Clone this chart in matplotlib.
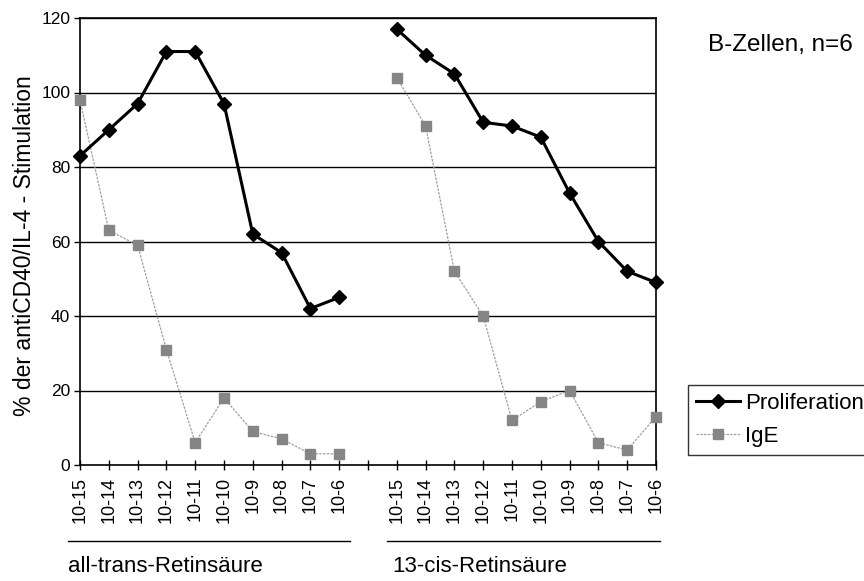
import numpy as np
import matplotlib
matplotlib.use("Agg")
import matplotlib.pyplot as plt
from matplotlib.lines import Line2D

plt.rcParams['font.family'] = ['Liberation Sans', 'DejaVu Sans']

conc_labels = ["10-15", "10-14", "10-13", "10-12", "10-11", "10-10", "10-9", "10-8", "10-7", "10-6"]
prolif_trans = [83, 90, 97, 111, 111, 97, 62, 57, 42, 45]
prolif_cis = [117, 110, 105, 92, 91, 88, 73, 60, 52, 49]
ige_trans = [98, 63, 59, 31, 6, 18, 9, 7, 3, 3]
ige_cis = [104, 91, 52, 40, 12, 17, 20, 6, 4, 13]
group_names = ["all-trans-Retinsäure", "13-cis-Retinsäure"]

# category sequence: 10 trans, one blank, 10 cis
labels = conc_labels + [""] + conc_labels
prolif = prolif_trans + [np.nan] + prolif_cis
ige = ige_trans + [np.nan] + ige_cis
x = np.arange(len(labels))

fig = plt.figure(figsize=(8.64, 5.81), dpi=100)
ax = fig.add_axes([80/864, 1-465/581, (656-80)/864, (465-18)/581])

for yv in range(20, 121, 20):
    ax.axhline(yv, color='black', lw=1.0, zorder=1)

ax.plot(x, ige, color='#a0a0a0', lw=0.9, ls=(0, (2, 1)), marker='s', ms=6.5,
        mfc='#858585', mec='#858585', zorder=3, clip_on=False, label='IgE')
ax.plot(x, prolif, color='black', lw=2.2, marker='D', ms=7.5,
        mfc='black', mec='black', zorder=4, clip_on=False, label='Proliferation')

ax.set_xlim(0, 20)
ax.set_ylim(0, 120)
ax.set_yticks(range(0, 121, 20))
ax.set_xticks(x)
ax.set_xticklabels(labels, rotation=90, fontsize=13)
ax.tick_params(axis='x', direction='inout', length=7, width=1, pad=5)
ax.tick_params(axis='y', direction='out', length=4, width=1, labelsize=12.5, pad=3)
for s in ax.spines.values():
    s.set_linewidth(1.2)
    s.set_color('black')

ax.set_ylabel("% der antiCD40/IL-4 - Stimulation", fontsize=16.5)
ax.yaxis.set_label_coords((36-80)/576, 0.49)

# group brackets
fig.add_artist(Line2D([68/864, 350/864], [1-541/581, 1-541/581], color='black', lw=1.0))
fig.add_artist(Line2D([387/864, 660/864], [1-541/581, 1-541/581], color='black', lw=1.0))
fig.text(68/864, 1-566/581, group_names[0], fontsize=16, va='center', ha='left')
fig.text(392/864, 1-566/581, group_names[1], fontsize=16, va='center', ha='left')

fig.text(708/864, 1-45/581, "B-Zellen, n=6", fontsize=17.5, va='center', ha='left')

h, l = ax.get_legend_handles_labels()
leg = fig.legend(h[::-1], l[::-1], loc='upper left', bbox_to_anchor=(688/864, 1-385/581),
                 fontsize=16, frameon=True, fancybox=False, edgecolor='black',
                 handlelength=2.0, handletextpad=0.2, borderpad=0.35, labelspacing=0.55,
                 borderaxespad=0)
leg.get_frame().set_linewidth(1.0)

fig.savefig("out.png", dpi=100)
